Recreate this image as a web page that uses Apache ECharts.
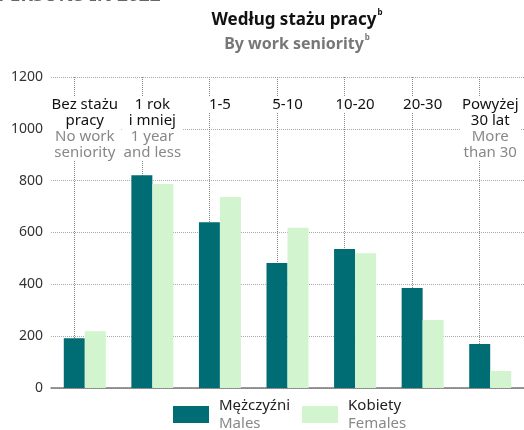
<!DOCTYPE html>
<html><head><meta charset="utf-8">
<script src="https://cdn.jsdelivr.net/npm/echarts@6/dist/echarts.min.js"></script>
<style>html,body{margin:0;padding:0;background:#fff}#c{width:524px;height:430px}</style>
</head><body><div id="c"></div>
<script>
const labelPl = ['Bez stażu\npracy', '1 rok\ni mniej', '1-5', '5-10', '10-20', '20-30', 'Powyżej\n30 lat'];
const labelEn = ['No work\nseniority', '1 year\nand less', '', '', '', '', 'More\nthan 30'];
const males = [192, 821, 640, 482, 536, 386, 170];
const females = [219, 787, 737, 618, 520, 262, 66];
const seriesPl = ['Mężczyźni', 'Kobiety'];
const seriesEn = ['Males', 'Females'];
const titlePl = 'Według stażu pracy';
const titleEn = 'By work seniority';
const topCut = 'PERSONS IN 2022';

const FONT = 'Noto Sans';
const chart = echarts.init(document.getElementById('c'), null, {renderer: 'canvas'});
const catIdx = labelPl.map((_, i) => i);

chart.setOption({
  animation: false,
  textStyle: {fontFamily: FONT},
  graphic: [{
    type: 'text', x: -2, y: 5, silent: true, z: 100,
    style: {text: topCut, font: 'bold 19px "Noto Sans"', fill: '#666', verticalAlign: 'bottom', align: 'left'}
  }],
  title: {
    left: 297, top: 9, textAlign: 'center', itemGap: 5, padding: 0,
    text: '{t|' + titlePl + '}{s|b}',
    subtext: '{t|' + titleEn + '}{s|b}',
    textStyle: {rich: {
      t: {fontFamily: FONT, fontWeight: 'bold', fontSize: 17, color: '#111', lineHeight: 22},
      s: {fontFamily: FONT, fontWeight: 'bold', fontSize: 8, color: '#111', verticalAlign: 'top', lineHeight: 22, padding: [0, 0, 9, 1]}
    }},
    subtextStyle: {rich: {
      t: {fontFamily: FONT, fontWeight: 'bold', fontSize: 16, color: '#777', lineHeight: 22},
      s: {fontFamily: FONT, fontWeight: 'bold', fontSize: 8, color: '#777', verticalAlign: 'top', lineHeight: 22, padding: [0, 0, 9, 1]}
    }}
  },
  grid: {left: 51, top: 77, width: 478, bottom: 42, containLabel: false},
  legend: {
    left: 173, top: 398, padding: 0, itemWidth: 36, itemHeight: 17, itemGap: 12, icon: 'rect',
    data: seriesPl,
    formatter: name => '{a|' + name + '}\n{b|' + seriesEn[seriesPl.indexOf(name)] + '}',
    textStyle: {padding: [0, 0, 0, 5], rich: {
      a: {fontFamily: FONT, fontSize: 15, color: '#222', lineHeight: 18},
      b: {fontFamily: FONT, fontSize: 15, color: '#888', lineHeight: 18}
    }}
  },
  xAxis: [{
    type: 'category', data: catIdx, position: 'bottom',
    axisLine: {show: true, lineStyle: {color: '#777', width: 1.5}},
    axisTick: {show: false}, axisLabel: {show: false}, splitLine: {show: false}
  }, {
    type: 'category', data: catIdx, position: 'top', z: 8,
    axisLine: {show: false}, axisTick: {show: false}, splitLine: {show: false},
    axisLabel: {
      inside: true, margin: 20, interval: 0, backgroundColor: '#fff', padding: [0, 2],
      formatter: (v, i) => {
        const idx = Number(v);
        const a = labelPl[idx].split('\n').map(s => '{a|' + s + '}');
        const b = labelEn[idx] ? labelEn[idx].split('\n').map(s => '{b|' + s + '}') : [];
        return a.concat(b).join('\n');
      },
      rich: {
        a: {fontFamily: FONT, fontSize: 15, color: '#111', lineHeight: 16},
        b: {fontFamily: FONT, fontSize: 15, color: '#888', lineHeight: 16}
      }
    }
  }],
  yAxis: {
    type: 'value', min: 0, max: 1200, interval: 200,
    axisLine: {show: false}, axisTick: {show: false},
    axisLabel: {color: '#333', fontSize: 14, margin: 8, fontFamily: FONT, formatter: v => String(v)},
    splitLine: {lineStyle: {type: 'dotted', color: '#aaa', width: 1}}
  },
  series: [{
    name: seriesPl[0], type: 'bar', data: males, barWidth: 21, barGap: '0%', z: 10,
    itemStyle: {color: '#006d75'},
    markLine: {
      silent: true, symbol: 'none', label: {show: false},
      lineStyle: {type: 'dotted', color: '#888', width: 1},
      emphasis: {disabled: true},
      data: catIdx.map(i => ({xAxis: i}))
    }
  }, {
    name: seriesPl[1], type: 'bar', data: females, barWidth: 21, barGap: '0%', z: 10,
    itemStyle: {color: '#d2f5cf'}
  }]
});
</script></body></html>
